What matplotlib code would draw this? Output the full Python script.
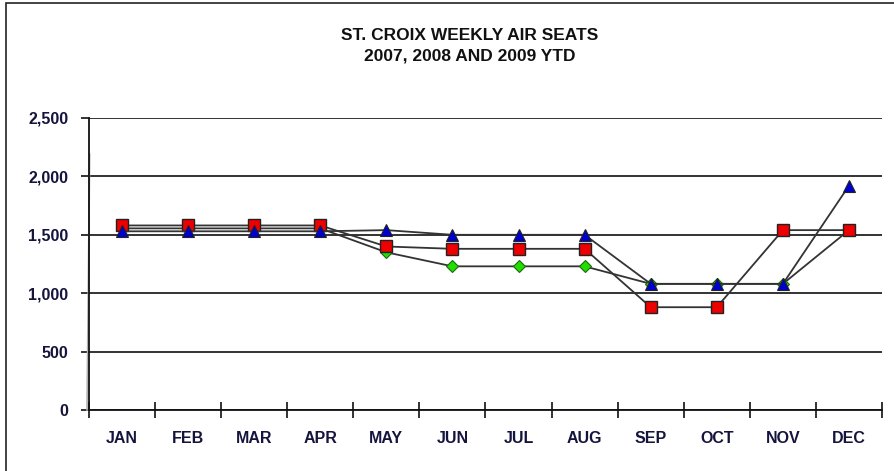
import numpy as np
import matplotlib
matplotlib.use("Agg")
from matplotlib import pyplot as plt
from matplotlib.patches import Rectangle

# data
months = ['JAN', 'FEB', 'MAR', 'APR', 'MAY', 'JUN', 'JUL', 'AUG', 'SEP', 'OCT', 'NOV', 'DEC']
seats_2007 = [1580, 1580, 1580, 1580, 1400, 1380, 1380, 1380, 880, 880, 1540, 1540]
seats_2008 = [1530, 1530, 1530, 1530, 1540, 1500, 1500, 1500, 1080, 1080, 1080, 1920]
seats_2009 = [1555, 1555, 1555, 1555, 1350, 1230, 1230, 1230, 1080, 1080, 1080, 1540]
# stray grey stroke along the value axis in the original
stray_x = [-0.53, -0.49]
stray_y = [0, 2190]

yticks = [0, 500, 1000, 1500, 2000, 2500]
title = 'ST. CROIX WEEKLY AIR SEATS\n2007, 2008 AND 2009 YTD'

label_color = '#14143c'
line_color = '#333333'

fig = plt.figure(figsize=(8.95, 4.71), dpi=100)
fig.patch.set_facecolor('white')
ax = fig.add_axes([89 / 895, 1 - 410 / 471, (882 - 89) / 895, (410 - 118) / 471])

x = np.arange(len(months))

ax.plot(stray_x, stray_y, color='#b0b0b0', lw=1.2, zorder=2, clip_on=False)

ax.plot(x, seats_2009, color=line_color, lw=1.3, marker='D', ms=6,
        markerfacecolor='#22dd00', markeredgecolor='#1a6a10', markeredgewidth=0.8, zorder=3)
ax.plot(x, seats_2007, color=line_color, lw=1.3, marker='s', ms=9,
        markerfacecolor='#ee0000', markeredgecolor='#222222', markeredgewidth=1.0, zorder=4)
ax.plot(x, seats_2008, color=line_color, lw=1.3, marker='^', ms=9,
        markerfacecolor='#0000cc', markeredgecolor='#222222', markeredgewidth=0.8, zorder=5)

ax.set_xlim(-0.5, len(months) - 0.5)
ax.set_ylim(0, 2500)

ax.set_yticks(yticks)
ax.set_yticklabels([f'{v:,}' for v in yticks], fontsize=11.5, fontweight='bold',
                   color=label_color, family='Liberation Sans')
ax.yaxis.grid(True, color='#111111', lw=1.2)
ax.set_axisbelow(True)
ax.tick_params(axis='y', direction='out', length=6, width=1.2, pad=9, color='#111111')

# category boundaries as ticks, labels at centres
ax.set_xticks(np.arange(-0.5, len(months), 1.0))
ax.set_xticklabels([])
ax.set_xticks(x, minor=True)
ax.set_xticklabels(months, minor=True, fontsize=11.5, fontweight='bold',
                   color=label_color, family='Liberation Sans')
ax.tick_params(axis='x', which='major', direction='inout', length=12, width=1.2, color='#111111')
ax.tick_params(axis='x', which='minor', length=0, pad=15)

for side in ['top', 'right']:
    ax.spines[side].set_visible(False)
for side in ['left', 'bottom']:
    ax.spines[side].set_color('#111111')
    ax.spines[side].set_linewidth(1.3)

fig.text(470 / 895, 1 - 46 / 471, title, ha='center', va='center', fontsize=12.5,
         fontweight='bold', family='Liberation Sans',
         color='#111111', linespacing=1.45)

# outer chart frame
fig.add_artist(Rectangle((6 / 895, -0.1), 1.2, 1 - 2.5 / 471 + 0.1, transform=fig.transFigure,
                         fill=False, edgecolor='#222222', lw=1.2))

fig.savefig('out.png', dpi=100)
